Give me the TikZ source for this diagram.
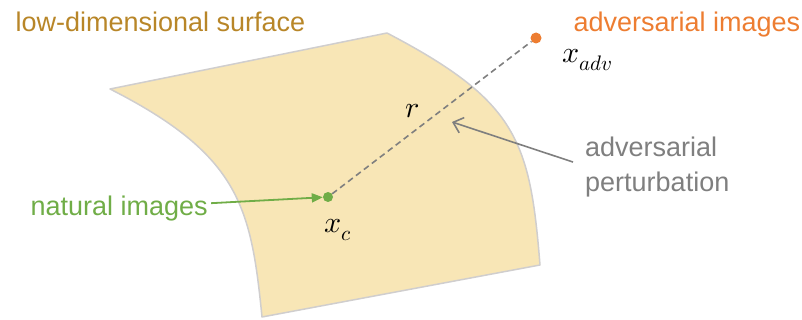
\documentclass[tikz,border=0pt]{standalone}
\usepackage{fontspec}
\usepackage{unicode-math}
\setmainfont{Liberation Sans}
\usetikzlibrary{arrows.meta}

\definecolor{surffill}{RGB}{248,230,182}
\definecolor{surfline}{RGB}{208,206,206}
\definecolor{surftext}{RGB}{184,134,40}
\definecolor{natgreen}{RGB}{112,173,71}
\definecolor{advorange}{RGB}{237,125,49}
\definecolor{pertgray}{RGB}{127,127,127}

\begin{document}
\begin{tikzpicture}[x=1pt,y=-1pt,
    every node/.style={font=\fontsize{27}{34.5}\selectfont},
    imgdot/.style={circle,inner sep=0pt,minimum size=10pt},
    mathlab/.style={anchor=base west,inner sep=0pt,font=\fontsize{30}{34}\selectfont}]
    \useasboundingbox (0,0) rectangle (802,320);

    % surface
    \filldraw[fill=surffill,draw=surfline,line width=1.5pt,line join=round]
        (110,89)--(387,33) .. controls (517,101) and (530,140) .. (540,265)
        --(262,317) .. controls (251,207) and (240,155) .. cycle;
    \node[anchor=base west,text=surftext] (surf) at (12,31.5) {low-dimensional surface};

    % images
    \node[imgdot,fill=natgreen] (xc) at (328,197) {};
    \node[imgdot,fill=advorange,minimum size=11pt] (xadv) at (536,38) {};
    \draw[pertgray,line width=1.6pt,dash pattern=on 6pt off 4pt] (xc)--(xadv);
    \node[mathlab] (xclab) at (324,233) {$x_c$};
    \node[mathlab] (xadvlab) at (562,63) {$x_{adv}$};
    \node[mathlab] (rlab) at (405,118) {$r$};

    % labels
    \node[anchor=base west,text=natgreen] (natural) at (27,215) {natural images};
    \node[anchor=base west,text=advorange] (advimg) at (570,31.5) {adversarial images};
    \node[anchor=north west,align=left,inner sep=0pt,text=pertgray] (pert) at (585,137)
        {adversarial\\perturbation};
    \coordinate (phead) at (452,122);

    % arrows
    \draw[natgreen,line width=1.8pt,-{Triangle[length=11pt,width=9pt]}] (natural)--(xc);
    \draw[pertgray,line width=1.6pt,-{Straight Barb[length=9pt,width=16pt]}]
        ([shift={(-12,-5)}]pert.west)--(phead);
\end{tikzpicture}
\end{document}
